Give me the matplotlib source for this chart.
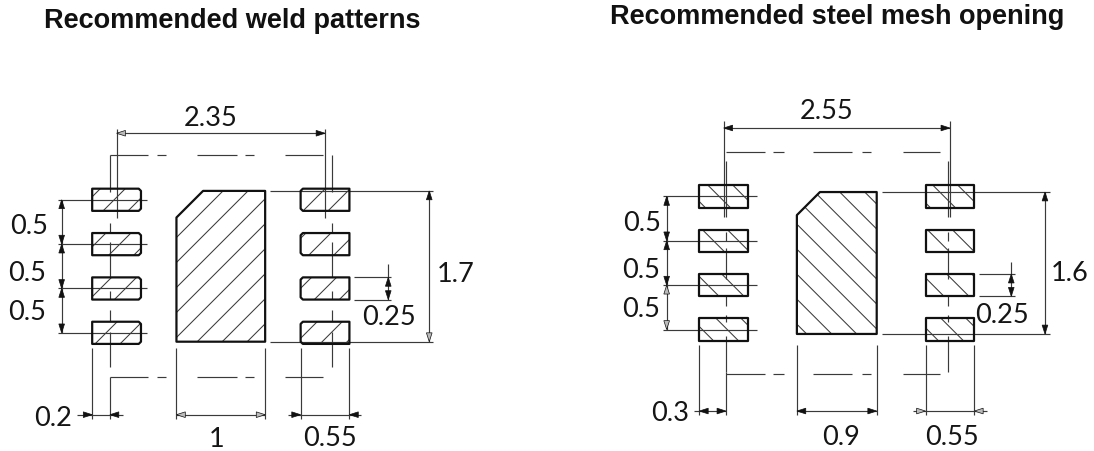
import matplotlib
matplotlib.use("Agg")
import matplotlib.pyplot as plt
from matplotlib.patches import Polygon

W, H = 1094, 452
PX_PER_MM = 88.7
INK = "#111111"
THIN = "#3a3a3a"

# ---------- shared footprint values (mm) ----------
ROWS = [0.75, 0.25, -0.25, -0.75]
PAD_W = 0.55
PAD_H = 0.25
HATCH_STEP = 0.2818

# ---------- left drawing ----------
L_TITLE = "Recommended weld patterns"
L_CENTER_PX = (220.8, 267.3)
L_PITCH_X = 2.35
L_EP_W = 1.0
L_EP_H = 1.7
L_CHAMFER = 0.3
L_LABELS = ["2.35", "0.5", "0.5", "0.5", "1.7", "0.25", "0.2", "1", "0.55"]
L_LABEL_XY = [(-0.11, 1.70), (-2.16, 0.49), (-2.18, -0.04), (-2.18, -0.48),
              (2.65, -0.06), (1.90, -0.54), (-1.89, -1.68), (-0.05, -1.92), (1.23, -1.91)]
L_DASH_H = [(-1.25, -0.817), (-0.723, -0.62), (-0.272, 0.179), (0.273, 0.374), (0.724, 1.156)]
L_DASH_V = [(1.25, 0.84), (0.49, 0.39), (0.27, -0.12), (-0.28, -0.37), (-0.49, -0.62), (-0.74, -1.14)]
L_HATCH = [-1.952 + HATCH_STEP * k for k in range(-4, 16)]
L_ROW_DIM_X = -1.794
L_ROW_SPAN = (-1.83, -0.83)
L_TOP_DIM = (1.50, 1.548, 0.54)
L_V25 = (1.888, 1.505, 1.92, 0.026)
L_TALL = (2.35, 0.55, 2.395)
L_BOTTOM = (-1.673, -0.925, -1.72)
L_EXT_X = [-1.45, -0.5, 0.5, 0.9, 1.45]
L_EXT_EXTRA = [(-1.25, -1.25, -1.72)]
L_DIM_RUNS = [(-1.618, -1.106), (-0.5, 0.5), (0.761, 1.583)]
L_ARROWS = [(-1.175, 1.50, "L", True), (1.175, 1.50, "R", False),
            (-1.794, 0.75, "U", False), (-1.794, 0.25, "D", False),
            (-1.794, 0.25, "U", False), (-1.794, -0.25, "D", False),
            (-1.794, -0.25, "U", False), (-1.794, -0.75, "D", False),
            (1.888, -0.125, "U", False), (1.888, -0.375, "D", False),
            (2.35, 0.85, "U", False), (2.35, -0.85, "D", True),
            (-1.45, -1.673, "R", False), (-1.25, -1.673, "L", False),
            (-0.5, -1.673, "L", True), (0.5, -1.673, "R", True),
            (0.9, -1.673, "R", False), (1.45, -1.673, "L", False)]

# ---------- right drawing ----------
R_TITLE = "Recommended steel mesh opening"
R_CENTER_PX = (836.8, 264.0)
R_PITCH_X = 2.55
R_EP_W = 0.9
R_EP_H = 1.6
R_CHAMFER = 0.26
R_LABELS = ["2.55", "0.5", "0.5", "0.5", "1.6", "0.25", "0.3", "0.9", "0.55"]
R_LABEL_XY = [(-0.12, 1.74), (-2.19, 0.48), (-2.21, -0.05), (-2.21, -0.49),
              (2.62, -0.08), (1.86, -0.56), (-1.88, -1.66), (0.05, -1.93), (1.30, -1.93)]
R_DASH_H = [(-1.252, -0.81), (-0.716, -0.60), (-0.265, 0.168), (0.28, 0.382), (0.749, 1.163)]
R_DASH_V = [(1.15, 0.52), (0.35, 0.25), (0.17, -0.18), (-0.37, -0.48), (-0.59, -0.67), (-0.82, -1.23)]
R_HATCH = [-0.576 + HATCH_STEP * k for k in range(-14, 14)]
R_ROW_DIM_X = -1.918
R_ROW_SPAN = (-1.956, -0.903)
R_TOP_DIM = (1.522, 1.60, 0.515)
R_V25 = (1.967, 1.607, 2.009, 0.008)
R_TALL = (2.347, 0.506, 2.404)
R_BOTTOM = (-1.669, -0.924, -1.714)
R_EXT_X = [-1.55, -0.45, 0.45, 1.0, 1.55]
R_EXT_EXTRA = [(-1.25, -1.23, -1.714)]
R_DIM_RUNS = [(-1.61, -1.25), (-0.45, 0.45), (0.856, 1.697)]
R_ARROWS = [(-1.275, 1.522, "L", False), (1.275, 1.522, "R", False),
            (-1.918, 0.75, "U", False), (-1.918, 0.25, "D", False),
            (-1.918, 0.25, "U", False), (-1.918, -0.25, "D", False),
            (-1.918, -0.25, "U", True), (-1.918, -0.75, "D", True),
            (1.967, -0.125, "U", False), (1.967, -0.375, "D", False),
            (2.347, 0.80, "U", False), (2.347, -0.80, "D", False),
            (-1.55, -1.669, "L", False), (-1.25, -1.669, "R", False),
            (-0.45, -1.669, "L", False), (0.45, -1.669, "R", False),
            (1.0, -1.669, "R", True), (1.55, -1.669, "L", True)]

DIRS = {"L": (-1, 0), "R": (1, 0), "U": (0, 1), "D": (0, -1)}


def thin(ax, xs, ys, lw=0.85, color=THIN, z=2):
    ax.plot(xs, ys, color=color, lw=lw, solid_capstyle="butt", zorder=z)


def arrow(ax, x, y, d, hollow):
    dx, dy = DIRS[d]
    L, w = 0.10, 0.032
    pts = [(x, y), (x - dx * L - dy * w, y - dy * L - dx * w),
           (x - dx * L + dy * w, y - dy * L + dx * w)]
    ax.add_patch(Polygon(pts, closed=True, facecolor="#bbbbbb" if hollow else INK,
                         edgecolor=INK, lw=0.5, zorder=5))


def pad_outline(cx, cy, round_side, r):
    x0, x1 = cx - PAD_W / 2, cx + PAD_W / 2
    y0, y1 = cy - PAD_H / 2, cy + PAD_H / 2
    if r == 0:
        return [(x0, y0), (x1, y0), (x1, y1), (x0, y1)]
    if round_side > 0:
        return [(x0, y0), (x1 - r, y0), (x1, y0 + r), (x1, y1 - r), (x1 - r, y1), (x0, y1)]
    return [(x0 + r, y0), (x1, y0), (x1, y1), (x0 + r, y1), (x0, y1 - r), (x0, y0 + r)]


def draw(ax, pitch, ep_w, ep_h, chamfer, labels, label_xy, dash_h, dash_v, hatch, slope, corner,
         row_dim_x, row_span, top_dim, v25, tall, bottom, ext_x, ext_extra, dim_runs, arrows):
    half = pitch / 2
    ep = [(-ep_w / 2, -ep_h / 2), (ep_w / 2, -ep_h / 2), (ep_w / 2, ep_h / 2),
          (-ep_w / 2 + chamfer, ep_h / 2), (-ep_w / 2, ep_h / 2 - chamfer)]
    shapes = [ep]
    for side in (-1, 1):
        for r in ROWS:
            shapes.append(pad_outline(side * half, r, -side, corner))

    # hatching, clipped to each copper shape
    for shape in shapes:
        clip = Polygon(shape, closed=True, transform=ax.transData)
        for c in hatch:
            xs = [-4.0, 4.0]
            ys = [slope * (x - c) if slope > 0 else -x + c for x in xs]
            ln, = ax.plot(xs, ys, color=THIN, lw=0.75, zorder=3)
            ln.set_clip_path(clip)
        ax.add_patch(Polygon(shape, closed=True, fill=False, edgecolor=INK, lw=1.6,
                             joinstyle="round", zorder=4))

    # package outline, centre lines
    for y in (1.25, -1.25):
        for a, b in dash_h:
            thin(ax, [a, b], [y, y])
    for x in (-1.25, 1.25):
        for a, b in dash_v:
            thin(ax, [x, x], [a, b])
    for x, a, b in ext_extra:
        thin(ax, [x, x], [a, b])

    # dimension: pad pitch across
    y, top, low = top_dim
    thin(ax, [-half, half], [y, y])
    for s in (-1, 1):
        thin(ax, [s * half, s * half], [top, low])

    # dimension: row pitch
    thin(ax, [row_dim_x, row_dim_x], [ROWS[0], ROWS[-1]])
    for r in ROWS:
        thin(ax, list(row_span), [r, r])

    # dimension: pad height
    x, a, b, vt = v25
    thin(ax, [x, x], [vt, ROWS[2] - PAD_H / 2])
    for s in (1, -1):
        yy = ROWS[2] + s * PAD_H / 2
        thin(ax, [a, b], [yy, yy])

    # dimension: overall height
    x, a, b = tall
    thin(ax, [x, x], [ep_h / 2, -ep_h / 2])
    for s in (1, -1):
        thin(ax, [a, b], [s * ep_h / 2, s * ep_h / 2])

    # dimensions along the bottom
    y, hi, lo = bottom
    for x in ext_x:
        thin(ax, [x, x], [hi, lo])
    for a, b in dim_runs:
        thin(ax, [a, b], [y, y])

    for x, yy, d, hollow in arrows:
        arrow(ax, x, yy, d, hollow)

    for text, (x, yy) in zip(labels, label_xy):
        ax.text(x, yy - 0.025, text, fontsize=19.5, family="Lato", color="#151515",
                ha="center", va="center", zorder=6)


def mm_axes(fig, center, x0_px, x1_px):
    ax = fig.add_axes([x0_px / W, 0, (x1_px - x0_px) / W, 1])
    cx, cy = center
    ax.set_xlim((x0_px - cx) / PX_PER_MM, (x1_px - cx) / PX_PER_MM)
    ax.set_ylim((cy - H) / PX_PER_MM, cy / PX_PER_MM)
    ax.axis("off")
    return ax


fig = plt.figure(figsize=(W / 100, H / 100), dpi=100, facecolor="white")

ax_l = mm_axes(fig, L_CENTER_PX, 0, 547)
draw(ax_l, L_PITCH_X, L_EP_W, L_EP_H, L_CHAMFER, L_LABELS, L_LABEL_XY, L_DASH_H, L_DASH_V,
     L_HATCH, 1, 0.025, L_ROW_DIM_X, L_ROW_SPAN, L_TOP_DIM, L_V25, L_TALL, L_BOTTOM,
     L_EXT_X, L_EXT_EXTRA, L_DIM_RUNS, L_ARROWS)

ax_r = mm_axes(fig, R_CENTER_PX, 547, 1094)
draw(ax_r, R_PITCH_X, R_EP_W, R_EP_H, R_CHAMFER, R_LABELS, R_LABEL_XY, R_DASH_H, R_DASH_V,
     R_HATCH, -1, 0, R_ROW_DIM_X, R_ROW_SPAN, R_TOP_DIM, R_V25, R_TALL, R_BOTTOM,
     R_EXT_X, R_EXT_EXTRA, R_DIM_RUNS, R_ARROWS)

fig.text(44 / W, 1 - 28 / H, L_TITLE, fontsize=19.5, fontweight="bold",
         family="Liberation Sans", color="#111111", ha="left", va="baseline")
fig.text(610 / W, 1 - 24 / H, R_TITLE, fontsize=19.5, fontweight="bold",
         family="Liberation Sans", color="#111111", ha="left", va="baseline")

fig.savefig("out.png", dpi=100, facecolor="white")
